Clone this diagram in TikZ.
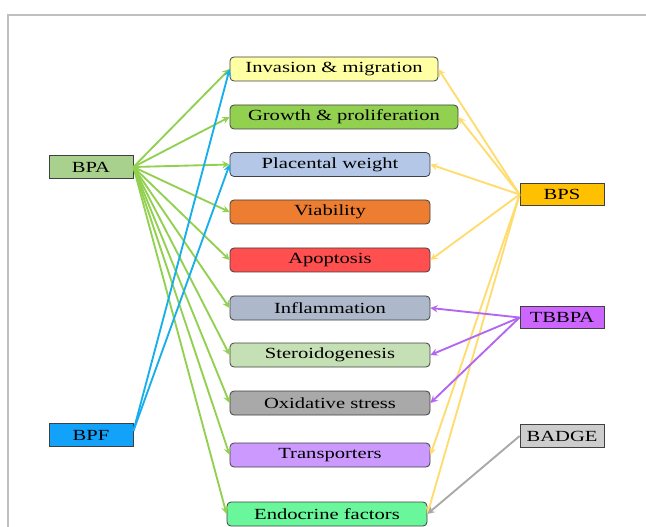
\documentclass[tikz,border=0pt]{standalone}
\usepackage{fontspec}
\setmainfont{Liberation Serif}[FakeStretch=1.33]
\definecolor{invfill}{HTML}{FFFFA3}
\definecolor{growfill}{HTML}{92D050}
\definecolor{placfill}{HTML}{B4C7E7}
\definecolor{viafill}{HTML}{ED7D31}
\definecolor{apopfill}{HTML}{FF4F4F}
\definecolor{inflfill}{HTML}{ADB9CA}
\definecolor{sterfill}{HTML}{C5E0B4}
\definecolor{oxifill}{HTML}{A9A9A9}
\definecolor{transfill}{HTML}{CC99FF}
\definecolor{endofill}{HTML}{6AF79B}
\definecolor{bpafill}{HTML}{A9D18E}
\definecolor{bpffill}{HTML}{12A2FA}
\definecolor{bpsfill}{HTML}{FFC000}
\definecolor{tbbpafill}{HTML}{CC66FF}
\definecolor{badgefill}{HTML}{CDCDCD}
\definecolor{greenline}{HTML}{92D050}
\definecolor{blueline}{HTML}{17AEEC}
\definecolor{yellowline}{HTML}{FFDC6E}
\definecolor{purpleline}{HTML}{B266F2}
\definecolor{grayline}{HTML}{A8A8A8}
\begin{document}
\begin{tikzpicture}[>=stealth,x=0.75pt,y=-0.75pt,
    effect/.style={draw=black!75,line width=0.6pt,rounded corners=3pt,minimum height=18pt,inner sep=0pt,font=\fontsize{11.6}{13}\selectfont},
    agent/.style={draw=black!75,line width=0.6pt,minimum width=63pt,minimum height=17pt,inner sep=0pt,font=\fontsize{11.6}{13}\selectfont},
    link/.style={->,line width=1.4pt}]
    \useasboundingbox (0,0) rectangle (646,527);
    \draw[black!25,line width=0.8pt] (8,527) -- (8,15) -- (646,15); % frame
    % effects in the middle
    \node[effect,fill=invfill,minimum width=156pt] (inv) at (334,69) {Invasion \& migration};
    \node[effect,fill=growfill,minimum width=171pt] (grow) at (344,117) {Growth \& proliferation};
    \node[effect,fill=placfill,minimum width=150pt] (plac) at (330,164.5) {Placental weight};
    \node[effect,fill=viafill,minimum width=150pt] (via) at (330,212) {Viability};
    \node[effect,fill=apopfill,minimum width=150pt] (apop) at (330,260) {Apoptosis};
    \node[effect,fill=inflfill,minimum width=150pt] (infl) at (330,308) {Inflammation};
    \node[effect,fill=sterfill,minimum width=150pt] (ster) at (330,355) {Steroidogenesis};
    \node[effect,fill=oxifill,minimum width=150pt] (oxi) at (330,403) {Oxidative stress};
    \node[effect,fill=transfill,minimum width=150pt] (trans) at (330,455) {Transporters};
    \node[effect,fill=endofill,minimum width=150pt] (endo) at (327,514) {Endocrine factors};
    % bisphenols
    \node[agent,fill=bpafill] (bpa) at (91,167) {BPA};
    \node[agent,fill=bpffill] (bpf) at (91,435) {BPF};
    \node[agent,fill=bpsfill] (bps) at (562,194.5) {BPS};
    \node[agent,fill=tbbpafill] (tbbpa) at (562,317.5) {TBBPA};
    \node[agent,fill=badgefill] (badge) at (562,436) {BADGE};
    \foreach \t in {inv,grow,plac,via,apop,infl,ster,oxi,trans,endo}
        \draw[link,greenline] (bpa.east) -- (\t.west);
    \foreach \t in {inv,plac}
        \draw[link,blueline] ([yshift=3pt]bpf.east) -- (\t.west);
    \foreach \t in {inv,grow,plac,apop,trans,endo}
        \draw[link,yellowline] (bps.west) -- (\t.east);
    \foreach \t in {infl,ster,oxi}
        \draw[link,purpleline] (tbbpa.west) -- (\t.east);
    \draw[link,grayline] (badge.west) -- (endo.east);
\end{tikzpicture}
\end{document}
